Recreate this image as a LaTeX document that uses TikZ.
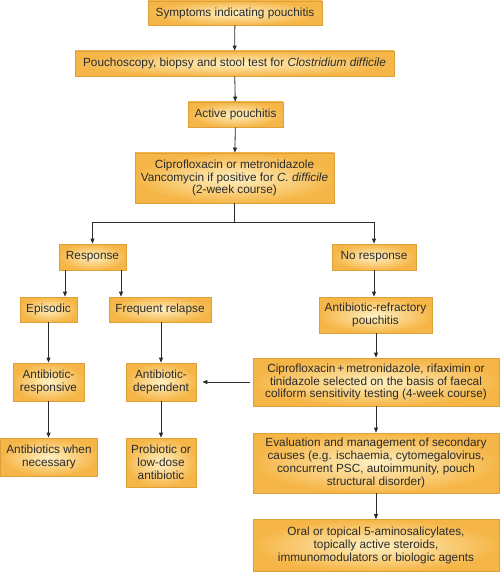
\documentclass[tikz,border=0pt]{standalone}
\usepackage{fontspec}
\setmainfont{Liberation Sans}
\usetikzlibrary{arrows.meta,positioning}
\definecolor{boxin}{HTML}{FEF0C2}
\definecolor{boxout}{HTML}{F6B647}
\definecolor{boxline}{HTML}{DDA03A}
\definecolor{ink}{HTML}{2B2B2B}
\begin{document}
\begin{tikzpicture}[x=1pt,y=-1pt,
  box/.style={draw=boxline,line width=0.8pt,inner color=boxin,outer color=boxout,
    rectangle,inner sep=0pt,align=center,text=ink,
    font=\fontsize{11.8}{12.8}\selectfont},
  arr/.style={draw=ink,line width=0.8pt,-{Triangle[length=5pt,width=4pt]}}]
\useasboundingbox (0,0) rectangle (500,572);
\node[box,minimum width=174pt,minimum height=24pt] (sym) at (235,13) {Symptoms indicating pouchitis};
\node[box,minimum width=319pt,minimum height=25pt] (pouch) at (234.5,63.5) {Pouchoscopy, biopsy and stool test for \textit{Clostridium difficile}};
\node[box,minimum width=95pt,minimum height=25pt] (active) at (235.5,114.5) {Active pouchitis};
\node[box,minimum width=199pt,minimum height=50pt] (cipro) at (234.5,178) {Ciprofloxacin or metronidazole\\Vancomycin if positive for \textit{C. difficile}\\(2-week course)};
\node[box,minimum width=67pt,minimum height=26pt] (resp) at (92.5,257) {Response};
\node[box,minimum width=84pt,minimum height=26pt] (noresp) at (374,257) {No response};
\node[box,minimum width=57pt,minimum height=25pt] (epis) at (48.5,309.5) {Episodic};
\node[box,minimum width=102pt,minimum height=25pt] (freq) at (160,309.5) {Frequent relapse};
\node[box,minimum width=113pt,minimum height=36pt] (refr) at (375.5,315) {Antibiotic-refractory\\pouchitis};
\node[box,minimum width=71pt,minimum height=38pt] (absresp) at (48.5,382) {Antibiotic-\\responsive};
\node[box,minimum width=70pt,minimum height=38pt] (absdep) at (161,382) {Antibiotic-\\dependent};
\node[box,minimum width=246pt,minimum height=48pt] (cm) at (376,382) {Ciprofloxacin\,+\,metronidazole, rifaximin or\\tinidazole selected on the basis of faecal\\coliform sensitivity testing (4-week course)};
\node[box,minimum width=97pt,minimum height=38pt] (abnec) at (49,457) {Antibiotics when\\necessary};
\node[box,minimum width=70pt,minimum height=49pt] (prob) at (161,462.5) {Probiotic or\\low-dose\\antibiotic};
\node[box,minimum width=246pt,minimum height=60pt] (eval) at (376,463) {Evaluation and management of secondary\\causes (e.g. ischaemia, cytomegalovirus,\\concurrent PSC, autoimmunity, pouch\\structural disorder)};
\node[box,minimum width=246pt,minimum height=52pt] (oral) at (376,545.5) {Oral or topical 5-aminosalicylates,\\topically active steroids,\\immunomodulators or biologic agents};
\coordinate (e1) at (65,0);
\coordinate (e2) at (121,0);
\draw[arr] (sym) -- (pouch);
\draw[arr] (pouch) -- (active);
\draw[arr] (active) -- (cipro);
\draw[arr] (cipro.south) -- ++(0,19) -| (resp.north);
\draw[arr] (cipro.south) -- ++(0,19) -| (noresp.north);
\draw[arr] (resp.south -| e1) -- (epis.north -| e1);
\draw[arr] (resp.south -| e2) -- (freq.north -| e2);
\draw[arr] (epis) -- (absresp);
\draw[arr] (freq.south -| absdep) -- (absdep);
\draw[arr] (absresp) -- (abnec.north -| absresp);
\draw[arr] (absdep) -- (prob);
\draw[arr] (noresp) -- (refr.north -| noresp);
\draw[arr] (refr.south -| cm) -- (cm);
\draw[arr] (cm) -- (eval);
\draw[arr] (eval) -- (oral);
\draw[arr,shorten <=3pt,shorten >=6pt] (cm.west) -- (absdep.east);
\end{tikzpicture}
\end{document}
